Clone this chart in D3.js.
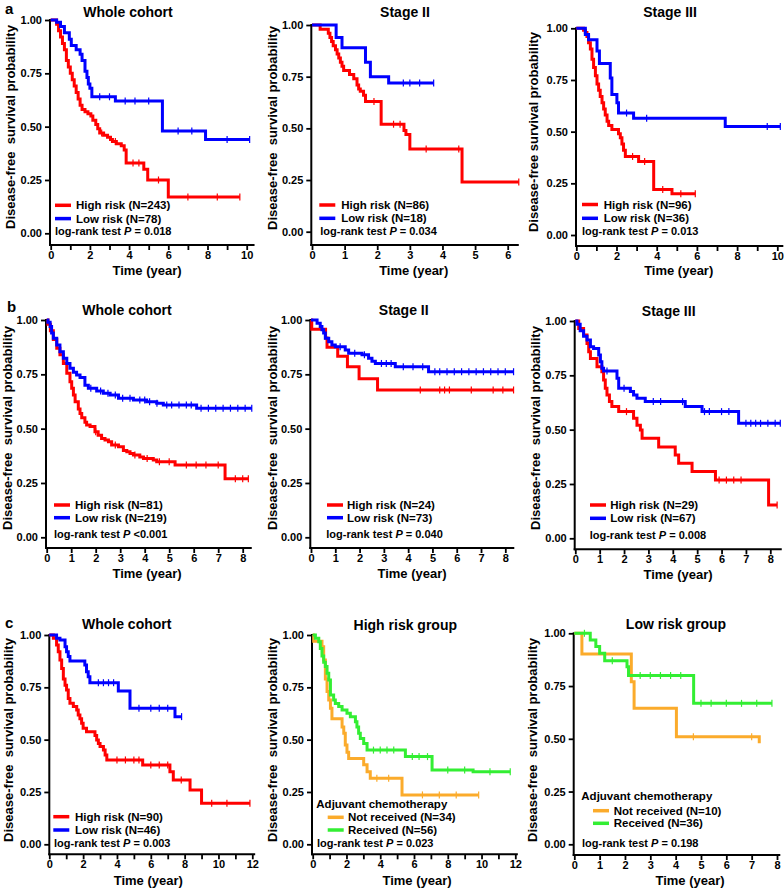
<!DOCTYPE html>
<html><head><meta charset="utf-8">
<script src="https://cdn.jsdelivr.net/npm/d3@7"></script>
<style>
body{margin:0;background:#fff;}
svg{display:block;font-family:"Liberation Sans",Arial,sans-serif;}
text{fill:#000;}
</style></head><body>
<svg id="chart" width="784" height="888"></svg>
<script>
// ---------------- DATA ----------------
const yTickValues = [0, 0.25, 0.5, 0.75, 1];
const panelTitles = ["Whole cohort","Stage II","Stage III","Whole cohort","Stage II","Stage III","Whole cohort","High risk group","Low risk group"];
const riskNames = ["High risk","Low risk"];
const chemoNames = ["Not received","Received"];
const panelN = [[243,78],[86,18],[96,36],[81,219],[24,73],[29,67],[90,46],[34,56],[10,36]];
const panelP = ["= 0.018","= 0.034","= 0.013","<0.001","= 0.040","= 0.008","= 0.003","= 0.023","= 0.198"];

// step points [time, survival after event], last follow-up, censor times
const a1High = [[0.3,0.98],[0.4,0.95],[0.5,0.92],[0.6,0.89],[0.7,0.86],[0.8,0.81],[0.9,0.78],[1.0,0.75],[1.1,0.72],[1.2,0.69],[1.3,0.66],[1.4,0.63],[1.5,0.60],[1.6,0.58],[1.75,0.57],[1.9,0.56],[2.05,0.55],[2.15,0.53],[2.3,0.51],[2.4,0.49],[2.5,0.47],[2.7,0.46],[2.9,0.45],[3.05,0.44],[3.15,0.43],[3.35,0.42],[3.6,0.41],[3.75,0.39],[3.85,0.33],[4.75,0.30],[4.95,0.25],[6.0,0.17]];
const a1HighEnd = 9.65, a1HighCens = [2.6,3.3,4.2,4.5,5.5,7.0,8.5,9.65];
const a1Low = [[0.3,0.99],[0.5,0.97],[0.7,0.94],[0.95,0.91],[1.05,0.88],[1.3,0.86],[1.5,0.84],[1.6,0.81],[1.75,0.76],[1.85,0.73],[1.92,0.70],[2.0,0.68],[2.1,0.64],[3.3,0.62],[5.7,0.48],[7.9,0.44]];
const a1LowEnd = 10.15, a1LowCens = [2.5,3.0,3.8,4.3,5.0,6.5,7.2,9.0,10.15];

const a2High = [[0.25,0.98],[0.5,0.96],[0.55,0.94],[0.6,0.92],[0.65,0.90],[0.72,0.88],[0.77,0.86],[0.82,0.84],[0.87,0.82],[0.92,0.80],[0.97,0.78],[1.15,0.76],[1.28,0.74],[1.38,0.71],[1.43,0.69],[1.48,0.68],[1.58,0.66],[1.64,0.63],[2.12,0.52],[2.82,0.49],[2.88,0.47],[3.0,0.40],[4.6,0.24]];
const a2HighEnd = 6.34, a2HighCens = [1.9,2.5,2.7,3.5,4.5,6.34];
const a2Low = [[0.74,0.94],[0.92,0.89],[1.64,0.82],[1.79,0.75],[2.35,0.72]];
const a2LowEnd = 3.73, a2LowCens = [2.8,3.0,3.3,3.73];

const a3High = [[0.36,0.99],[0.45,0.98],[0.53,0.96],[0.61,0.93],[0.7,0.90],[0.78,0.85],[0.86,0.81],[0.95,0.77],[1.03,0.73],[1.11,0.70],[1.19,0.67],[1.28,0.64],[1.36,0.61],[1.44,0.58],[1.53,0.55],[1.61,0.53],[1.77,0.51],[2.1,0.49],[2.19,0.47],[2.27,0.44],[2.35,0.41],[2.44,0.38],[3.1,0.355],[3.85,0.22],[4.76,0.20]];
const a3HighEnd = 5.92, a3HighCens = [2.8,3.4,4.3,5.2,5.92];
const a3Low = [[0.45,0.97],[0.61,0.945],[1.03,0.89],[1.15,0.83],[1.69,0.76],[1.77,0.68],[2.02,0.64],[2.1,0.59],[2.85,0.565],[7.41,0.525]];
const a3LowEnd = 10.15, a3LowCens = [2.5,3.5,9.5,10.15];

const b1High = [[0.05,0.98],[0.15,0.95],[0.27,0.91],[0.41,0.87],[0.54,0.84],[0.68,0.80],[0.82,0.755],[0.95,0.716],[1.02,0.686],[1.09,0.655],[1.16,0.624],[1.29,0.59],[1.36,0.57],[1.43,0.55],[1.56,0.53],[1.63,0.517],[1.77,0.51],[1.97,0.486],[2.1,0.47],[2.24,0.455],[2.38,0.448],[2.52,0.44],[2.65,0.425],[2.93,0.417],[3.13,0.40],[3.27,0.394],[3.4,0.386],[3.54,0.379],[3.8,0.37],[3.95,0.363],[4.35,0.356],[4.49,0.348],[5.24,0.333],[7.28,0.27]];
const b1HighEnd = 8.23, b1HighCens = [2.0,2.8,3.6,4.1,4.6,5.0,5.7,6.1,6.5,7.0,7.7,8.0,8.23];
const b1Low = [[0.05,0.99],[0.14,0.97],[0.2,0.94],[0.27,0.916],[0.41,0.885],[0.54,0.854],[0.68,0.824],[0.82,0.80],[0.95,0.778],[1.09,0.76],[1.22,0.747],[1.36,0.735],[1.56,0.70],[1.7,0.686],[2.04,0.673],[2.31,0.663],[2.59,0.655],[2.93,0.64],[3.54,0.632],[4.08,0.624],[4.49,0.617],[4.76,0.609],[6.12,0.594]];
const b1LowEnd = 8.37, b1LowCens = [1.8,2.2,2.5,2.8,3.1,3.4,3.8,4.0,4.2,4.5,4.9,5.1,5.4,5.7,5.9,6.3,6.6,6.9,7.2,7.5,7.8,8.1,8.37];

const b2High = [[0.03,0.958],[0.6,0.917],[0.66,0.875],[1.1,0.833],[1.5,0.785],[1.98,0.73],[2.74,0.678]];
const b2HighEnd = 8.34, b2HighCens = [4.5,5.3,5.5,5.7,6.6,7.5,7.9,8.34];
const b2Low = [[0.25,0.985],[0.38,0.97],[0.45,0.955],[0.52,0.94],[0.59,0.916],[0.73,0.90],[0.86,0.885],[1.0,0.877],[1.41,0.862],[1.55,0.847],[2.1,0.84],[2.37,0.824],[2.51,0.81],[2.65,0.80],[3.47,0.785],[4.84,0.762]];
const b2LowEnd = 8.34, b2LowCens = [1.2,1.8,2.2,2.9,3.1,3.3,3.8,4.2,4.6,5.1,5.3,5.6,5.9,6.2,6.5,6.8,7.1,7.4,7.7,8.0,8.34];

const b3High = [[0.14,0.966],[0.34,0.935],[0.48,0.897],[0.55,0.859],[0.62,0.828],[0.89,0.79],[1.09,0.767],[1.16,0.728],[1.23,0.69],[1.3,0.66],[1.4,0.629],[1.5,0.606],[1.78,0.583],[2.39,0.552],[2.53,0.52],[2.67,0.498],[2.74,0.46],[3.42,0.42],[4.1,0.383],[4.24,0.345],[4.79,0.307],[5.75,0.268],[7.93,0.153]];
const b3HighEnd = 8.28, b3HighCens = [2.1,5.9,6.2,6.5,6.8,8.28];
const b3Low = [[0.07,0.985],[0.2,0.955],[0.34,0.93],[0.48,0.913],[0.62,0.882],[0.75,0.874],[0.96,0.843],[1.03,0.813],[1.09,0.782],[1.16,0.77],[1.71,0.736],[1.78,0.69],[2.26,0.675],[2.39,0.66],[2.53,0.644],[2.87,0.629],[4.51,0.606],[5.2,0.583],[6.7,0.529]];
const b3LowEnd = 8.41, b3LowCens = [1.3,2.0,3.2,3.5,4.4,5.3,5.5,6.0,6.3,7.0,7.2,7.4,7.6,7.9,8.2,8.41];

const c1High = [[0.24,0.984],[0.43,0.952],[0.53,0.92],[0.63,0.88],[0.73,0.84],[0.83,0.79],[0.93,0.76],[1.02,0.737],[1.12,0.697],[1.22,0.674],[1.42,0.658],[1.62,0.642],[1.71,0.618],[1.81,0.60],[1.91,0.578],[2.0,0.554],[2.2,0.538],[2.7,0.52],[2.8,0.498],[2.9,0.482],[3.0,0.467],[3.2,0.45],[3.3,0.427],[3.4,0.403],[5.52,0.379],[7.13,0.347],[7.33,0.307],[8.32,0.26],[9.0,0.196]];
const c1HighEnd = 11.86, c1HighCens = [4.0,4.5,5.0,5.3,6.0,6.5,7.0,7.8,9.6,10.5,11.86];
const c1Low = [[0.43,0.985],[0.63,0.976],[0.93,0.944],[1.02,0.92],[1.12,0.897],[1.22,0.876],[2.1,0.857],[2.2,0.825],[2.3,0.80],[2.4,0.772],[4.08,0.733],[4.77,0.65],[7.43,0.61]];
const c1LowEnd = 7.82, c1LowCens = [2.9,3.2,3.5,3.8,5.3,6.0,6.5,7.0,7.82];

const c2Not = [[0.06,0.97],[0.55,0.944],[0.65,0.88],[0.75,0.79],[0.85,0.73],[0.95,0.69],[1.05,0.65],[1.14,0.60],[1.74,0.56],[1.84,0.53],[1.93,0.475],[2.03,0.44],[2.13,0.41],[3.02,0.38],[3.22,0.347],[3.41,0.315],[5.29,0.236]];
const c2NotEnd = 9.83, c2NotCens = [3.8,4.5,6.5,7.5,8.5,9.83];
const c2Rec = [[0.16,0.985],[0.36,0.968],[0.45,0.936],[0.55,0.90],[0.65,0.87],[0.75,0.849],[0.85,0.817],[0.95,0.785],[1.05,0.713],[1.24,0.69],[1.34,0.673],[1.54,0.658],[1.74,0.642],[2.03,0.626],[2.23,0.61],[2.53,0.586],[2.62,0.56],[2.72,0.53],[2.82,0.506],[3.02,0.482],[3.22,0.45],[5.49,0.419],[7.07,0.355],[9.5,0.347]];
const c2RecEnd = 11.7, c2RecCens = [3.6,4.0,4.4,4.8,5.9,6.3,6.8,8.0,9.0,10.5,11.7];

const c3Not = [[0.3,0.902],[2.25,0.77],[2.36,0.645],[4.03,0.51],[7.3,0.479]];
const c3NotEnd = 7.3, c3NotCens = [4.7,7.0];
const c3Rec = [[0.63,0.968],[0.85,0.937],[1.0,0.905],[1.2,0.87],[2.08,0.842],[2.14,0.80],[4.71,0.668]];
const c3RecEnd = 7.8, c3RecCens = [0.4,1.5,2.6,3.0,3.4,3.8,4.2,5.0,5.4,6.0,6.6,7.2,7.8];

// ---------------- STYLE / LAYOUT ----------------
const RED="#ff0000", BLUE="#0000ff", ORANGE="#fbab2b", GREEN="#33ee33";
const layouts = [
 {x0:50.7,x1:246.7,tickMax:10,xMax:10.4,yTop:20,yBot:233.3,axisY:245,yAxisX:50,every:2,tx:128,ty:12,ylx:10,yly:127,xlx:147,xly:270,legX:55,legY:205.3,gap:13.3,textX:76,lrX:55,lrY:231,dbl:true},
 {x0:312,x1:507.7,tickMax:6,xMax:6.34,yTop:25,yBot:231.7,axisY:245,yAxisX:311.3,every:1,tx:405,ty:12,ylx:272,yly:128,xlx:413.7,xly:270,legX:319.3,legY:205,gap:13.3,textX:341.3,lrX:320.3,lrY:231,dbl:true},
 {x0:576.3,x1:777.3,tickMax:10,xMax:10.3,yTop:28.3,yBot:235,axisY:246,yAxisX:576,every:2,tx:670,ty:12,ylx:533.7,yly:132,xlx:678.7,xly:270,legX:582,legY:204.5,gap:13.8,textX:603.7,lrX:582,lrY:231,dbl:false},
 {x0:46.7,x1:242.7,tickMax:8,xMax:8.37,yTop:320,yBot:537.3,axisY:548,yAxisX:46,every:1,tx:127,ty:310,ylx:7.3,yly:428,xlx:147,xly:573,legX:54,legY:505,gap:12.7,textX:75,lrX:54,lrY:534.5,dbl:true},
 {x0:311,x1:505.3,tickMax:8,xMax:8.37,yTop:320,yBot:537.3,axisY:548,yAxisX:310.3,every:1,tx:403.7,ty:310,ylx:272,yly:428,xlx:412,xly:573,legX:327,legY:505,gap:12.7,textX:347,lrX:326.3,lrY:534.5,dbl:true},
 {x0:575.3,x1:770.3,tickMax:8,xMax:8.47,yTop:321,yBot:538.3,axisY:549.3,yAxisX:574.7,every:1,tx:668.7,ty:311,ylx:535.3,yly:428,xlx:678,xly:574,legX:590,legY:505,gap:13.3,textX:610.3,lrX:589.7,lrY:535.5,dbl:true},
 {x0:49.3,x1:252.3,tickMax:12,xMax:12.17,yTop:635,yBot:844.3,axisY:854.3,yAxisX:49.3,every:2,tx:126.7,ty:624.3,ylx:8.3,yly:740,xlx:148.3,xly:880,legX:53.3,legY:816.7,gap:13.3,textX:75,lrX:54,lrY:843.2,dbl:true},
 {x0:312.7,x1:515.3,tickMax:12,xMax:12.15,yTop:635,yBot:844.3,axisY:854.3,yAxisX:312,every:2,tx:405.3,ty:625,ylx:272,yly:740,xlx:417,xly:880,headX:316.3,headY:804.3,legX:327.7,legY:817.3,gap:12.7,textX:348,lrX:317,lrY:843.2,dbl:true},
 {x0:574.3,x1:777,tickMax:8,xMax:8.13,yTop:633.3,yBot:844.3,axisY:855,yAxisX:573.7,every:1,tx:676,ty:624.3,ylx:532,yly:740,xlx:690,xly:880,headX:581.3,headY:796,legX:593,legY:810.7,gap:12.6,textX:613.7,lrX:582,lrY:843.5,dbl:true}
];
const panelSeries = [
 [[a1High,a1HighEnd,a1HighCens],[a1Low,a1LowEnd,a1LowCens]],
 [[a2High,a2HighEnd,a2HighCens],[a2Low,a2LowEnd,a2LowCens]],
 [[a3High,a3HighEnd,a3HighCens],[a3Low,a3LowEnd,a3LowCens]],
 [[b1High,b1HighEnd,b1HighCens],[b1Low,b1LowEnd,b1LowCens]],
 [[b2High,b2HighEnd,b2HighCens],[b2Low,b2LowEnd,b2LowCens]],
 [[b3High,b3HighEnd,b3HighCens],[b3Low,b3LowEnd,b3LowCens]],
 [[c1High,c1HighEnd,c1HighCens],[c1Low,c1LowEnd,c1LowCens]],
 [[c2Not,c2NotEnd,c2NotCens],[c2Rec,c2RecEnd,c2RecCens]],
 [[c3Not,c3NotEnd,c3NotCens],[c3Rec,c3RecEnd,c3RecCens]]
];

const svg = d3.select("#chart");

function stepValue(steps, t){ let s=1; for(const [tt,v] of steps){ if(tt<=t) s=v; else break; } return s; }

function drawPanel(i){
  const p = layouts[i];
  const chemo = i>=7;
  const colors = chemo ? [ORANGE, GREEN] : [RED, BLUE];
  const names = chemo ? chemoNames : riskNames;
  const g = svg.append("g");
  const x = d3.scaleLinear().domain([0,p.tickMax]).range([p.x0,p.x1]);
  const y = d3.scaleLinear().domain([0,1]).range([p.yBot,p.yTop]);

  // Y axis
  const ya = g.append("g").attr("transform",`translate(${p.yAxisX},0)`)
    .call(d3.axisLeft(y).tickValues(yTickValues).tickFormat(d3.format(".2f")).tickSize(5).tickPadding(3));
  ya.select(".domain").remove();
  g.append("line").attr("x1",p.yAxisX).attr("x2",p.yAxisX).attr("y1",p.yTop-1).attr("y2",p.axisY+1)
    .attr("stroke","#000").attr("stroke-width",2);
  // X axis
  const xa = g.append("g").attr("transform",`translate(0,${p.axisY})`)
    .call(d3.axisBottom(x).tickValues(d3.range(0,Math.floor(p.xMax)+1)).tickFormat(d=> d%p.every===0? d : "").tickSize(5).tickPadding(1));
  xa.select(".domain").remove();
  g.append("line").attr("x1",p.yAxisX-1).attr("x2",x(p.xMax)).attr("y1",p.axisY).attr("y2",p.axisY)
    .attr("stroke","#000").attr("stroke-width",2);
  g.selectAll(".tick line").attr("stroke","#000").attr("stroke-width",1.8);
  g.selectAll(".tick text").attr("font-size",11).attr("font-weight","bold").attr("fill","#000")
    .attr("font-family","'Liberation Sans',Arial,sans-serif");

  // curves
  const line = d3.line().x(d=>x(d[0])).y(d=>y(d[1])).curve(d3.curveStepAfter);
  panelSeries[i].forEach(([steps,end,cens],k)=>{
    const pts = [[0,1], ...steps, [end, steps[steps.length-1][1]]];
    g.append("path").attr("d",line(pts)).attr("fill","none").attr("stroke",colors[k]).attr("stroke-width",3);
    g.selectAll(null).data(cens).enter().append("line")
      .attr("x1",d=>x(d)).attr("x2",d=>x(d))
      .attr("y1",d=>y(stepValue(steps,d))-3.5).attr("y2",d=>y(stepValue(steps,d))+3.5)
      .attr("stroke",colors[k]).attr("stroke-width",1.2);
  });

  // title
  g.append("text").attr("x",p.tx).attr("y",p.ty).attr("dy","0.35em").attr("text-anchor","middle")
    .attr("font-size",14).attr("font-weight","bold").text(panelTitles[i]);
  // y label
  g.append("text").attr("transform",`translate(${p.ylx},${p.yly}) rotate(-90)`).attr("dy","0.35em")
    .attr("text-anchor","middle").attr("font-size",13).attr("font-weight","bold").style("white-space","pre")
    .text(p.dbl ? "Disease-free  survival probability" : "Disease-free survival probability");
  // x label
  g.append("text").attr("x",p.xlx).attr("y",p.xly).attr("dy","0.35em").attr("text-anchor","middle")
    .attr("font-size",13).attr("font-weight","bold").text("Time (year)");

  // legend
  if(chemo){
    g.append("text").attr("x",p.headX).attr("y",p.headY).attr("dy","0.35em")
      .attr("font-size",11.5).attr("font-weight","bold").text("Adjuvant chemotherapy");
  }
  names.forEach((nm,k)=>{
    const ly = p.legY + k*p.gap;
    g.append("line").attr("x1",p.legX).attr("x2",p.legX+16).attr("y1",ly).attr("y2",ly)
      .attr("stroke",colors[k]).attr("stroke-width",3.5);
    g.append("text").attr("x",p.textX).attr("y",ly).attr("dy","0.35em")
      .attr("font-size",11.5).attr("font-weight","bold").text(`${nm} (N=${panelN[i][k]})`);
  });
  const lr = g.append("text").attr("x",p.lrX).attr("y",p.lrY).attr("dy","0.35em")
    .attr("font-size",11).attr("font-weight","bold").style("white-space","pre");
  lr.append("tspan").text("log-rank test ");
  lr.append("tspan").attr("font-style","italic").text("P");
  lr.append("tspan").text(" " + panelP[i]);
}

for(let i=0;i<9;i++) drawPanel(i);

// panel letters
const panelLetters = ["a","b","c"];
const letterPos = [[5,14],[7,312],[5,628]];
panelLetters.forEach((l,k)=>{
  svg.append("text").attr("x",letterPos[k][0]).attr("y",letterPos[k][1])
    .attr("font-size",15).attr("font-weight","bold").text(l);
});
</script>
</body></html>
